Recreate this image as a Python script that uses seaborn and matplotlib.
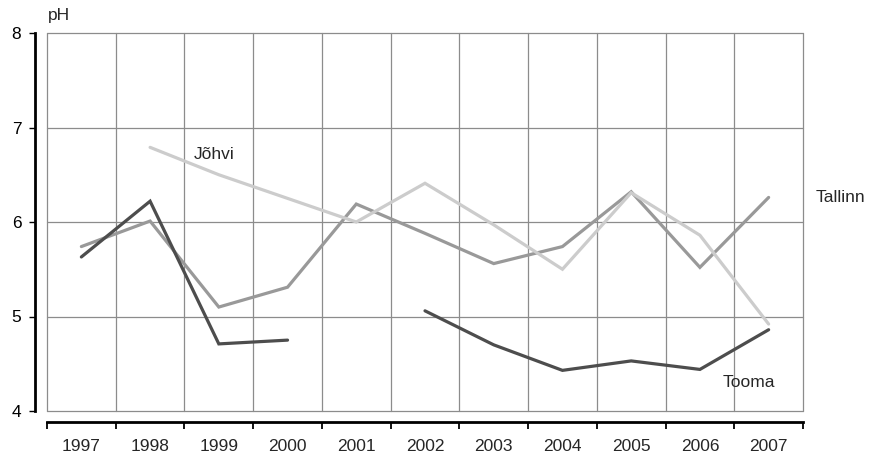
import numpy as np
import pandas as pd
import matplotlib
matplotlib.use("Agg")
import matplotlib.pyplot as plt
import seaborn as sns

years = ["1997", "1998", "1999", "2000", "2001", "2002", "2003", "2004", "2005", "2006", "2007"]
tallinn = [5.74, 6.01, 5.10, 5.31, 6.19, 5.88, 5.56, 5.74, 6.32, 5.52, 6.26]
johvi = [np.nan, 6.79, 6.50, 6.25, 6.00, 6.41, 5.97, 5.50, 6.31, 5.86, 4.92]
tooma = [5.63, 6.22, 4.71, 4.75, np.nan, 5.06, 4.70, 4.43, 4.53, 4.44, 4.86]
series_names = ["Tallinn", "Jõhvi", "Tooma"]
y_ticks = [4, 5, 6, 7, 8]

sns.set_style("white")
plt.rcParams["font.family"] = ["Liberation Sans", "DejaVu Sans"]
FS = 12.5

rows = []
for name, vals in zip(series_names, [tallinn, johvi, tooma]):
    seg = 0
    for i, v in enumerate(vals):
        if np.isnan(v):
            seg += 1
            continue
        rows.append({"x": i, "pH": v, "series": name, "seg": f"{name}_{seg}"})
df = pd.DataFrame(rows)

W, H = 871, 457
fig = plt.figure(figsize=(W / 100, H / 100), dpi=100)
L, R, T, B = 47, 803, 33, 411
ax = fig.add_axes([L / W, 1 - B / H, (R - L) / W, (B - T) / H])

palette = {"Tallinn": "#999999", "Jõhvi": "#cccccc", "Tooma": "#4d4d4d"}
for name in series_names:
    sub = df[df["series"] == name]
    sns.lineplot(data=sub, x="x", y="pH", units="seg", estimator=None,
                 color=palette[name], linewidth=2.3, ax=ax, legend=False,
                 zorder=3, solid_joinstyle="miter")

ax.set_xlim(-0.5, len(years) - 0.5)
ax.set_ylim(4, 8)

# grid
for yv in y_ticks:
    ax.axhline(yv, color="#8c8c8c", linewidth=0.9, zorder=1, clip_on=False)
for xv in np.arange(-0.5, len(years), 1.0):
    ax.axvline(xv, color="#8c8c8c", linewidth=0.9, zorder=1, clip_on=False)

for s in ["top", "right"]:
    ax.spines[s].set_visible(False)
ax.spines["left"].set_position(("outward", 9))
ax.spines["left"].set_linewidth(2.0)
ax.spines["left"].set_color("black")
ax.spines["bottom"].set_position(("outward", 8))
ax.spines["bottom"].set_linewidth(2.0)
ax.spines["bottom"].set_color("black")

ax.set_yticks(y_ticks)
ax.set_yticklabels([str(v) for v in y_ticks], fontsize=FS)
ax.tick_params(axis="y", left=True, direction="out", length=4, width=1, pad=5.5, colors="black")

ax.set_xticks(np.arange(-0.5, len(years), 1.0))
ax.set_xticklabels([])
ax.set_xticks(np.arange(len(years)), minor=True)
ax.set_xticklabels(years, minor=True, fontsize=FS)
ax.tick_params(axis="x", which="major", bottom=True, direction="out", length=5, width=1.3, colors="black")
ax.tick_params(axis="x", which="minor", bottom=True, length=0, pad=12)

ax.set_xlabel("")
ax.set_ylabel("")

ax.text(-0.49, 8.19, "pH", fontsize=FS, ha="left", va="center", clip_on=False)
ax.text(1.63, 6.71, "Jõhvi", fontsize=FS, ha="left", va="center")
ax.text(10.68, 6.26, "Tallinn", fontsize=FS, ha="left", va="center", clip_on=False)
ax.text(9.33, 4.30, "Tooma", fontsize=FS, ha="left", va="center")

fig.savefig("out.png", dpi=100, facecolor="white")
